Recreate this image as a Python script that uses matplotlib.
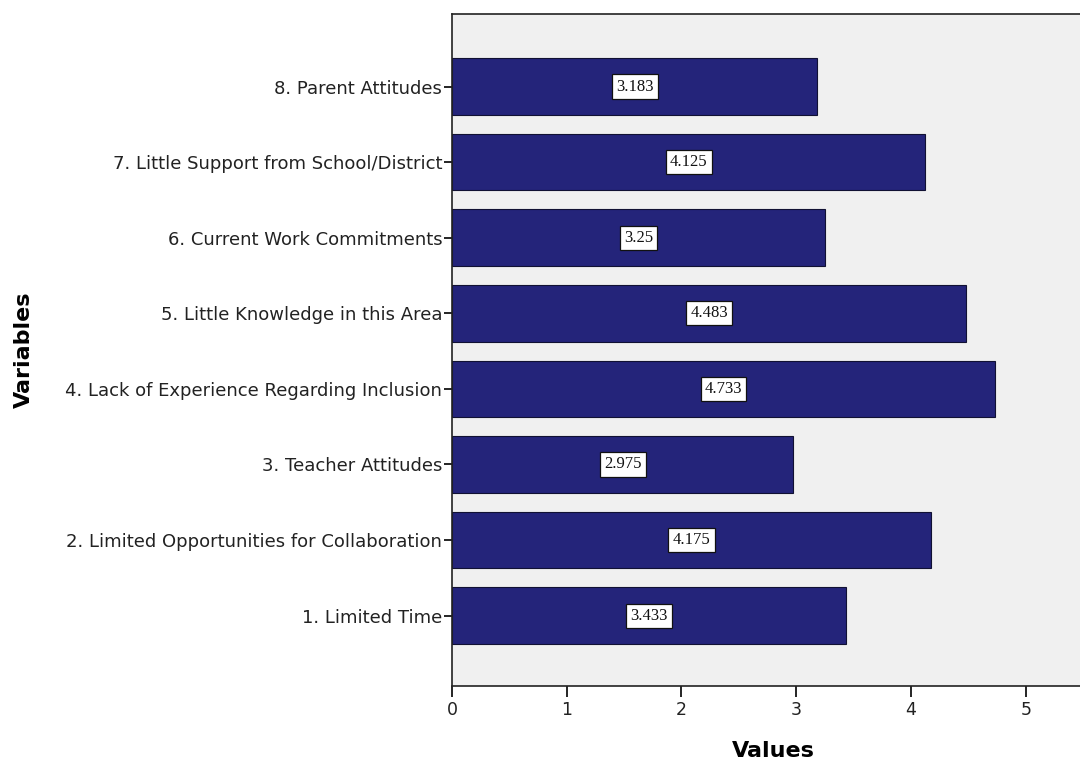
import matplotlib
matplotlib.use("Agg")
import matplotlib.pyplot as plt

# Survey items (bottom to top) and their mean values
categories = [
    "1. Limited Time",
    "2. Limited Opportunities for Collaboration",
    "3. Teacher Attitudes",
    "4. Lack of Experience Regarding Inclusion",
    "5. Little Knowledge in this Area",
    "6. Current Work Commitments",
    "7. Little Support from School/District",
    "8. Parent Attitudes",
]
values = [3.433, 4.175, 2.975, 4.733, 4.483, 3.25, 4.125, 3.183]
value_labels = ["3.433", "4.175", "2.975", "4.733", "4.483", "3.25", "4.125", "3.183"]
x_ticks = [0, 1, 2, 3, 4, 5]

plt.rcParams["font.family"] = ["DejaVu Sans"]

fig = plt.figure(figsize=(10.8, 7.6), dpi=100)
fig.patch.set_facecolor("white")
ax = fig.add_axes([0.4185, 0.0974, 0.595, 0.8842])
ax.set_facecolor("#f0f0f0")

positions = list(range(1, len(categories) + 1))
ax.barh(positions, values, height=0.75, color="#24247a",
        edgecolor="#111133", linewidth=0.8, zorder=2)

for pos, val, lab in zip(positions, values, value_labels):
    ax.text(val / 2, pos, lab, ha="center", va="center",
            family="Liberation Serif", fontsize=12, color="#111111", zorder=3,
            bbox=dict(boxstyle="square,pad=0.25", facecolor="white",
                      edgecolor="#111111", linewidth=0.9))

ax.set_xlim(0, 5.6)
ax.set_ylim(0.07, 8.96)
ax.set_yticks(positions)
ax.set_yticklabels(categories, fontsize=13, color="#222222")
ax.set_xticks(x_ticks)
ax.set_xticklabels([str(t) for t in x_ticks], fontsize=12.5, color="#222222")
ax.tick_params(axis="y", length=6, width=1.2, pad=1)
ax.tick_params(axis="x", length=8, width=1.2, pad=3)

for side in ("left", "bottom", "top"):
    ax.spines[side].set_linewidth(1.2)
    ax.spines[side].set_color("#222222")
ax.spines["right"].set_visible(False)

ax.set_xlabel("Values", fontsize=16, fontweight="bold", labelpad=16)
ax.set_ylabel("Variables", fontsize=16, fontweight="bold")
ax.yaxis.set_label_coords(-0.65, 0.5)

fig.savefig("out.png", dpi=100, facecolor="white")
